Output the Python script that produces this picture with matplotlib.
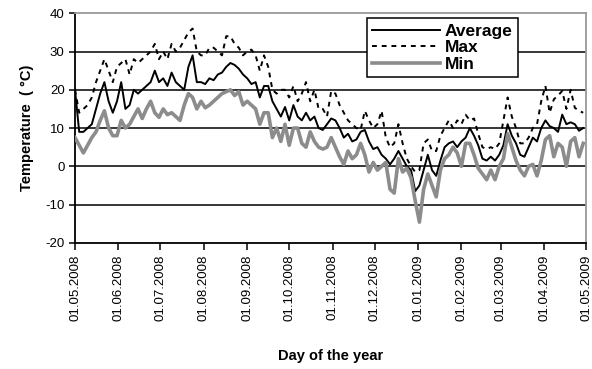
import numpy as np
import pandas as pd
import matplotlib
matplotlib.use('Agg')
import matplotlib.pyplot as plt
import matplotlib.dates as mdates

plt.rcParams['font.family'] = ['Liberation Sans', 'DejaVu Sans']
plt.rcParams['axes.unicode_minus'] = False

# readings every 3 days, starting 01.05.2008
start = '2008-05-01'
step_days = 3

t_avg = [20, 9, 9, 10, 11, 15, 19, 22, 17, 14, 17,
         22, 15, 16, 20, 19, 20, 21, 22, 25, 22,
         23, 21, 24.5, 22, 21, 20, 26, 29, 22, 22,
         21.5, 23, 22.5, 24, 24.5, 26, 27, 26.5, 25.5, 24,
         23, 21.5, 22, 18, 21, 21, 17, 15, 13, 15.5,
         12, 16, 13, 12, 14, 12, 13, 10, 9.5, 11,
         12.5, 12, 10, 7.5, 8.5, 6.5, 7, 9, 9.5, 6.5,
         4.5, 5, 3, 2, 0.5, 2, 4, 2, 0, -1, -6.5,
         -5, -1, 3, -1, -2.5, 1.5, 5, 6, 6.5, 5,
         6.5, 7.5, 10, 8, 5.5, 2, 1.5, 2.5, 1.5,
         3, 5.5, 11, 8, 6, 3, 2.5, 5, 7.5, 6.5, 10,
         12, 10.5, 10, 9, 13.5, 11, 11.5, 11, 9.3, 10]

t_max = [20, 14, 15, 16, 18, 22, 25, 28, 25, 22, 26,
         27, 28, 24, 28, 27, 28, 29, 30, 32, 28,
         30, 28, 32, 30, 31, 33, 35, 36, 30, 29,
         29, 31, 31, 30, 29, 34, 34, 32, 31, 29,
         30, 30.5, 29, 25, 29, 26, 20, 19, 20, 20,
         18, 21, 17, 19, 22, 17, 20, 15, 15, 13,
         19.7, 19, 16, 14, 12, 11, 10, 9.5, 14.5, 12,
         10, 11, 14.5, 7.5, 5, 6, 11, 6, 2, 0, -1.5,
         -1, 6, 7, 4, 4, 8, 10, 12, 10, 12,
         11, 13.5, 12, 12.5, 8.5, 5, 4.5, 5, 4.5,
         6, 12, 18, 13, 10, 6, 6, 7.5, 10, 11, 17,
         21, 14, 17.5, 18.5, 19.7, 15, 20, 15.3, 14.5, 14]

t_min = [7.5, 5.5, 3.5, 5.5, 7.5, 9, 12, 14.5, 10, 8, 8,
         12, 10, 11, 13, 15, 12.5, 15, 17, 14, 12.8,
         15, 13.5, 14, 13, 12, 16, 19, 18, 15, 17,
         15.3, 16, 17, 18, 19, 19.5, 20, 18.5, 19.5, 16,
         17, 16, 15, 11, 14, 14, 7.5, 10, 6.5, 11,
         5.5, 10, 10, 6, 5, 9, 6.5, 5, 4.5, 5,
         7.5, 5, 2.5, 0.5, 4, 2, 3, 6, 3, -1.5,
         1, -1, 0, 1, -6, -7, 2, -1.5, -0.5, -3, -9,
         -14.6, -6, -2, -5, -8, -1, 2, 3, 5, 3.5,
         0, 6, 6, 3, -0.5, -2, -3.5, -1, -3.5,
         0, 2, 8.5, 5, 1.5, -1, -2.5, 0, 0.5, -2.5, 1.5,
         7, 8, 2.5, 6, 5, 0, 6.5, 7.5, 2.5, 6]

dates = pd.date_range(start, periods=len(t_avg), freq=f'{step_days}D')

fig = plt.figure(figsize=(5.92, 3.69), dpi=100)
ax = fig.add_axes([0.1267, 0.342, 0.8632, 0.622])

ax.plot(dates, t_avg, color='black', lw=1.4, label='Average', zorder=3)
ax.plot(dates, t_max, color='black', lw=1.4, ls=(0, (2.5, 2.5)), label='Max', zorder=3)
ax.plot(dates, t_min, color='#8c8c8c', lw=2.6, label='Min', zorder=3)

ax.set_xlim(pd.Timestamp('2008-05-01'), pd.Timestamp('2009-05-01'))
ax.set_ylim(-20, 40)
ax.set_yticks(np.arange(-20, 41, 10))
for yv in range(-10, 40, 10):
    ax.axhline(yv, color='black', lw=1.1, zorder=1)

ax.xaxis.set_major_locator(mdates.MonthLocator(bymonthday=1))
ax.xaxis.set_major_formatter(mdates.DateFormatter('%d.%m.%Y'))
ax.tick_params(axis='x', labelrotation=90, labelsize=9.5, direction='out', length=5, width=1.1)
ax.tick_params(axis='y', labelsize=9.5, direction='out', length=4, width=1.1)

for s in ['left', 'bottom']:
    ax.spines[s].set_color('black')
    ax.spines[s].set_linewidth(1.3)
for s in ['top', 'right']:
    ax.spines[s].set_color('#999999')
    ax.spines[s].set_linewidth(1.3)

ax.set_ylabel('Temperature  ( °C)', fontsize=10.5, fontweight='bold', labelpad=8)
ax.set_xlabel('Day of the year', fontsize=10.5, fontweight='bold', labelpad=20)

leg = ax.legend(loc='upper left', bbox_to_anchor=(0.571, 0.978),
                prop={'weight': 'bold', 'size': 12.5}, frameon=True, fancybox=False,
                handlelength=3.9, handletextpad=0.3, borderpad=0.3,
                labelspacing=0.08, borderaxespad=0)
leg.get_frame().set_edgecolor('black')
leg.get_frame().set_linewidth(1.1)
leg.get_frame().set_alpha(1)

plt.savefig('out.png', dpi=100)
